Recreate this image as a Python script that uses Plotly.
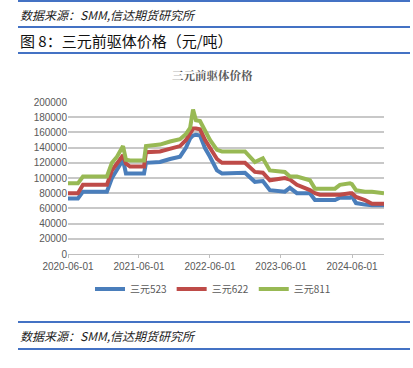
import plotly.graph_objects as go

dates = ["2020-06-01", "2020-07-22", "2020-08-17", "2020-12-18", "2021-01-13", "2021-02-08",
         "2021-03-11", "2021-03-26", "2021-04-16", "2021-06-27", "2021-07-07", "2021-09-17",
         "2021-11-08", "2021-12-29", "2022-01-29", "2022-02-19", "2022-03-06", "2022-03-21",
         "2022-04-11", "2022-05-07", "2022-06-01", "2022-07-07", "2022-08-02", "2022-11-28",
         "2023-01-18", "2023-02-28", "2023-04-05", "2023-06-21", "2023-07-17", "2023-08-22",
         "2023-10-28", "2023-11-23", "2023-12-18", "2024-03-05", "2024-03-30", "2024-05-21",
         "2024-05-31", "2024-06-21", "2024-08-06", "2024-09-11", "2024-11-12"]
ncm523 = [73000, 73000, 82000, 82000, 100000, 112000, 124000, 106000, 106000, 106000, 120000, 121000,
          125000, 128000, 140000, 152000, 156000, 157000, 156000, 139000, 128000, 110000, 106000, 107000,
          95000, 96000, 84000, 82000, 87000, 80000, 80000, 71000, 71000, 71000, 74000, 74000,
          76000, 67000, 65000, 64000, 64000]
ncm622 = [80000, 80000, 91000, 91000, 110000, 120000, 130000, 119000, 115000, 115000, 134000, 135000,
          138000, 142000, 150000, 160000, 165000, 165000, 164000, 150000, 140000, 125000, 120000, 120000,
          108000, 107000, 97000, 100000, 98000, 91000, 84000, 80000, 78000, 78000, 78000, 80000,
          80000, 75000, 71000, 66000, 66000]
ncm811 = [93000, 93000, 102000, 102000, 120000, 128000, 142000, 124000, 123000, 123000, 142000, 144000,
          148000, 151000, 158000, 166000, 190000, 176000, 175000, 161000, 150000, 137000, 135000, 135000,
          121000, 126000, 110000, 108000, 102000, 102000, 97000, 86000, 86000, 86000, 91000, 93000,
          92000, 84000, 82000, 82000, 80000]
series_names = ["三元523", "三元622", "三元811"]
series_colors = ["#4A7EBB", "#BE4B48", "#98B954"]
xticks = ["2020-06-01", "2021-06-01", "2022-06-01", "2023-06-01", "2024-06-01"]

W, H = 413, 368
L, R, T, B = 68, 384, 102, 254

def px(x):
    return (x - L) / (R - L)

def py(y):
    return (B - y) / (B - T)

fig = go.Figure()
for name, vals, col in zip(series_names, [ncm523, ncm622, ncm811], series_colors):
    fig.add_trace(go.Scatter(x=dates, y=vals, mode="lines", name=name,
                             line=dict(color=col, width=4)))

cjk = "Noto Sans CJK SC"
tickfont = dict(family="Liberation Sans, Arial", size=10, color="#595959")

fig.update_layout(
    width=W, height=H,
    margin=dict(l=L, r=W - R, t=T, b=H - B, pad=0),
    paper_bgcolor="white", plot_bgcolor="white",
    showlegend=True,
    legend=dict(orientation="h", x=px(213), xanchor="center", y=py(289), yanchor="middle",
                font=dict(family=cjk, size=10, color="#595959"), itemwidth=30,
                tracegroupgap=0, itemclick=False),
    xaxis=dict(type="date", range=["2020-06-01", "2024-11-12"], tickvals=xticks, ticktext=xticks,
               showgrid=False, showline=True, linecolor="#BFBFBF", linewidth=1,
               ticks="outside", ticklen=3, tickcolor="#BFBFBF", tickfont=tickfont, zeroline=False),
    yaxis=dict(range=[0, 200000], dtick=20000, tickformat="d", showgrid=True, gridcolor="#C8C8C8",
               gridwidth=1.5, showline=False, zeroline=False, tickfont=tickfont, ticks="",
               ticklen=0),
)

blue = "#4472C4"
for yy in [1, 27, 53, 322, 349]:
    fig.add_shape(type="line", xref="paper", yref="paper", x0=px(18), x1=px(410),
                  y0=py(yy), y1=py(yy), line=dict(color=blue, width=2))

fig.add_annotation(text="<i>数据来源：SMM,信达期货研究所</i>", xref="paper", yref="paper",
                   x=px(18), y=py(14), xanchor="left", yanchor="middle", showarrow=False,
                   font=dict(family=cjk, size=12, color="#222222"))
fig.add_annotation(text="图 8：三元前驱体价格（元/吨）", xref="paper", yref="paper",
                   x=px(18), y=py(41), xanchor="left", yanchor="middle", showarrow=False,
                   font=dict(family=cjk, size=15, color="#111111"))
fig.add_annotation(text="<b>三元前驱体价格</b>", xref="paper", yref="paper",
                   x=px(212), y=py(75), xanchor="center", yanchor="middle", showarrow=False,
                   font=dict(family="Noto Serif CJK SC, " + cjk, size=11.5, color="#595959"))
fig.add_annotation(text="<i>数据来源：SMM,信达期货研究所</i>", xref="paper", yref="paper",
                   x=px(18), y=py(335), xanchor="left", yanchor="middle", showarrow=False,
                   font=dict(family=cjk, size=12, color="#222222"))

fig.write_html("out.html", config={"displayModeBar": False},
               post_script="document.body.style.margin='0px';")
